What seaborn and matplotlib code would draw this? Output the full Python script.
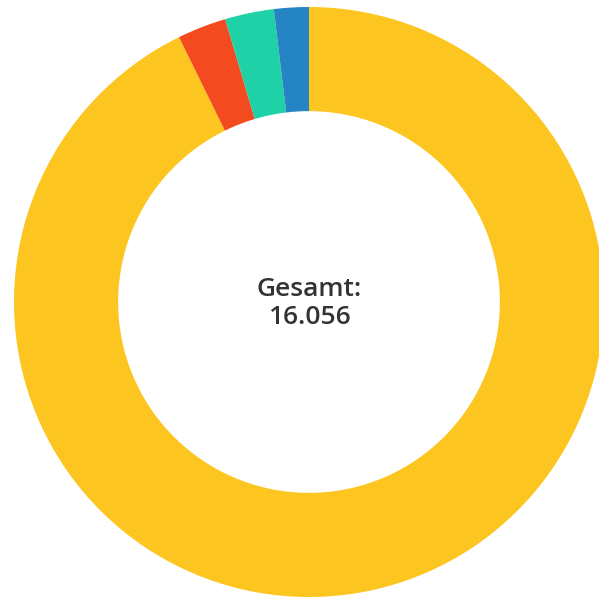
import matplotlib
matplotlib.use("Agg")
import matplotlib.pyplot as plt
import seaborn as sns

# slice values, clockwise from 12 o'clock
labels = ["Gelb", "Rot", "Türkis", "Blau"]
values = [14890, 430, 430, 306]
colors = ["#FDC520", "#F44A1F", "#1FD1A6", "#2585C4"]
total_label = "Gesamt:\n16.056"

sns.set_theme(style="white")
plt.rcParams['font.family'] = ['Open Sans', 'DejaVu Sans']

fig = plt.figure(figsize=(5.99, 6.01), dpi=100)
ax = fig.add_axes([0, 0, 1, 1])

ax.pie(values, colors=sns.color_palette(colors), startangle=90, counterclock=False,
       radius=1.0, wedgeprops=dict(width=0.353, linewidth=0))

ax.text(0, -0.005, total_label, ha="center", va="center", fontsize=19,
        fontweight="semibold", color="#333333", linespacing=1.15)

# place the ring center at about (309, 302) px, radius 295 px
ax.set_xlim(-309 / 295, (599 - 309) / 295)
ax.set_ylim(-299 / 295, (601 - 299) / 295)
ax.set_aspect("auto")
ax.axis("off")

fig.savefig("out.png", dpi=100)
